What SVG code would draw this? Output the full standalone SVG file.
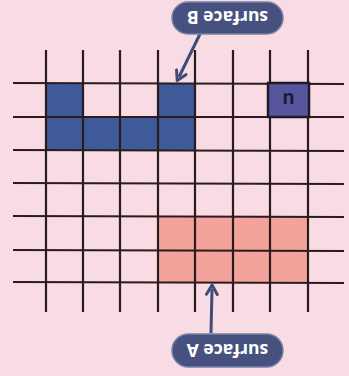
<svg xmlns="http://www.w3.org/2000/svg" width="349" height="376" viewBox="0 0 349 376">
<style>
.grid line{stroke:#2a1c1e;stroke-width:2.2}
.blue{fill:#3f5a98}
.pink{fill:#f4a29c}
.pill{fill:#46517f;stroke:#7482a8;stroke-width:1.5}
.lbl{font-family:"Open Sans",sans-serif;font-weight:700;font-size:17.5px;fill:#ffffff}
.conn{stroke:#3d4c78;stroke-width:3;fill:none}
</style>
<defs>
<marker id="ah" viewBox="0 0 10 10" refX="5" refY="5" markerWidth="4.5" markerHeight="4.5" orient="auto-start-reverse">
<path d="M1,1 L8,5 L1,9" fill="none" stroke="#3d4c78" stroke-width="2.2" stroke-linecap="round" stroke-linejoin="round"/>
</marker>
</defs>
<rect width="349" height="376" fill="#f8dbe3"/>
<g id="surfaceB-cells">
<rect class="blue" x="46" y="83" width="37" height="34"/>
<rect class="blue" x="158" y="83" width="37" height="34"/>
<rect class="blue" x="46" y="117" width="149" height="33"/>
</g>
<g id="surfaceA-cells">
<rect class="pink" x="158" y="217" width="150" height="65"/>
</g>
<g class="grid" id="grid">
<line x1="46" y1="50" x2="46" y2="312"/>
<line x1="83" y1="50" x2="83" y2="312"/>
<line x1="120" y1="50" x2="120" y2="312"/>
<line x1="158" y1="50" x2="158" y2="312"/>
<line x1="195" y1="50" x2="195" y2="312"/>
<line x1="233" y1="50" x2="233" y2="312"/>
<line x1="270" y1="50" x2="270" y2="312"/>
<line x1="308" y1="50" x2="308" y2="312"/>
<line x1="13" y1="83" x2="344" y2="84"/>
<line x1="13" y1="117" x2="344" y2="117"/>
<line x1="13" y1="150" x2="344" y2="151"/>
<line x1="13" y1="183" x2="344" y2="184"/>
<line x1="13" y1="216" x2="344" y2="217"/>
<line x1="13" y1="250" x2="344" y2="251"/>
<line x1="13" y1="282" x2="344" y2="283"/>
</g>
<g id="u-cell">
<rect x="268" y="83" width="41" height="34" fill="#57569c" stroke="#1e1a2a" stroke-width="2.5"/>
<text x="288.5" y="100" transform="rotate(180 288.5 100)" text-anchor="middle" dominant-baseline="central" font-family="'Open Sans',sans-serif" font-weight="700" font-size="19" fill="#1c1a3a">u</text>
</g>
<g id="connectors">
<line class="conn" x1="200" y1="34" x2="179" y2="77" marker-end="url(#ah)"/>
<line class="conn" x1="211" y1="333" x2="212" y2="289" marker-end="url(#ah)"/>
</g>
<g id="surfaceB">
<rect class="pill" x="172" y="2" width="111" height="32" rx="16"/>
<text class="lbl" x="227.5" y="18" transform="rotate(180 227.5 18)" text-anchor="middle" dominant-baseline="central">surface B</text>
</g>
<g id="surfaceA">
<rect class="pill" x="172" y="334" width="111" height="33" rx="16.5"/>
<text class="lbl" x="227.5" y="350.5" transform="rotate(180 227.5 350.5)" text-anchor="middle" dominant-baseline="central">surface A</text>
</g>
</svg>
